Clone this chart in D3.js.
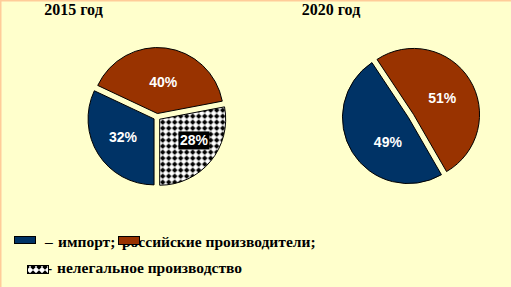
<!DOCTYPE html>
<html><head><meta charset="utf-8">
<script src="https://cdn.jsdelivr.net/npm/d3@7"></script>
<style>html,body{margin:0;padding:0;background:#FFFFCC;}svg{display:block;}</style>
</head><body>
<script>
const years = ["2015 год", "2020 год"];
const categories = ["импорт", "российские производители", "нелегальное производство"];
const values2015 = [32, 40, 28];
const values2020 = [49, 51];
const labels2015 = ["32%", "40%", "28%"];
const labels2020 = ["49%", "51%"];
const legendTexts = ["импорт;", "российские производители;", "нелегальное производство"];

const W = 511, H = 287;
const svg = d3.select("body").append("svg").attr("width", W).attr("height", H);
svg.append("rect").attr("width", W).attr("height", H).attr("fill", "#FFFFCC");
svg.append("rect").attr("x", 0).attr("y", 0).attr("width", W).attr("height", 1.5).attr("fill", "#FFCC99");
svg.append("rect").attr("x", 0).attr("y", 0).attr("width", 1.5).attr("height", H).attr("fill", "#FFCC99");

const defs = svg.append("defs");
const pat = defs.append("pattern").attr("id", "diam").attr("patternUnits", "userSpaceOnUse")
  .attr("width", 6).attr("height", 6);
pat.append("rect").attr("width", 6).attr("height", 6).attr("fill", "#fff");
pat.append("path").attr("d", "M3,0 L6,3 L3,6 L0,3 Z").attr("fill", "#000").attr("transform", "translate(3,3) scale(0.92) translate(-3,-3)");

const colors = ["#003366", "#993300", "url(#diam)"];
const deg = Math.PI / 180;

// layout-only nudges for label placement [dx, dy]
function drawPie(values, labels, cx, cy, r, startDeg, explode, boxIdx, lr, nudges) {
  const pie = d3.pie().sort(null).value(d => d)
    .startAngle(startDeg * deg).endAngle((startDeg + 360) * deg);
  const arcs = pie(values);
  const arc = d3.arc().innerRadius(0).outerRadius(r);
  const labelArc = d3.arc().innerRadius(lr).outerRadius(lr);
  const g = svg.append("g").attr("transform", `translate(${cx},${cy})`);
  const sg = g.selectAll("g.s").data(arcs).enter().append("g")
    .attr("transform", d => {
      const a = (d.startAngle + d.endAngle) / 2;
      return `translate(${explode * Math.sin(a)},${-explode * Math.cos(a)})`;
    });
  sg.append("path").attr("d", arc).attr("fill", (d, i) => colors[i])
    .attr("stroke", "#000").attr("stroke-width", 1);
  sg.each(function(d, i) {
    let [x, y] = labelArc.centroid(d);
    x += nudges[i][0]; y += nudges[i][1];
    const s = d3.select(this);
    if (i === boxIdx) {
      s.append("rect").attr("x", x - 15.5).attr("y", y - 9).attr("width", 31).attr("height", 18).attr("fill", "#000");
    }
    s.append("text").attr("x", x).attr("y", y).attr("dy", "0.36em")
      .attr("text-anchor", "middle").attr("fill", "#fff")
      .attr("font-family", "Liberation Sans, Arial, sans-serif")
      .attr("font-weight", "bold").attr("font-size", 14).text(labels[i]);
  });
}

drawPie(values2015, labels2015, 157, 117, 66, 180, 3.5, 2, 38, [[1, -2], [1, 6], [5, -3]]);
drawPie(values2020, labels2020, 411, 116, 66, 150, 3, -1, 36, [[10, 5], [-2, 3]]);

const titleX = [73.5, 331];
svg.selectAll("text.title").data(years).enter().append("text")
  .attr("x", (d, i) => titleX[i]).attr("y", 15).attr("text-anchor", "middle")
  .attr("font-family", "Liberation Serif, Times New Roman, serif")
  .attr("font-weight", "bold").attr("font-size", 16).attr("fill", "#000").text(d => d);

const ff = "Liberation Serif, Times New Roman, serif";
function ltext(x, y, t) {
  return svg.append("text").attr("x", x).attr("y", y).attr("font-family", ff)
    .attr("font-weight", "bold").attr("font-size", 15.5).attr("fill", "#000").text(t);
}
ltext(45, 247, "–");
ltext(58, 247, legendTexts[0]);
ltext(122, 247, legendTexts[1]);
ltext(47, 273, "-");
ltext(57, 273, legendTexts[2]);
svg.append("rect").attr("x", 14.5).attr("y", 236.5).attr("width", 21).attr("height", 7)
  .attr("fill", colors[0]).attr("stroke", "#000");
svg.append("rect").attr("x", 118.5).attr("y", 236.5).attr("width", 21).attr("height", 8)
  .attr("fill", colors[1]).attr("stroke", "#000");
svg.append("rect").attr("x", 27.5).attr("y", 265.5).attr("width", 21).attr("height", 8)
  .attr("fill", colors[2]).attr("stroke", "#000");
</script>
</body></html>
